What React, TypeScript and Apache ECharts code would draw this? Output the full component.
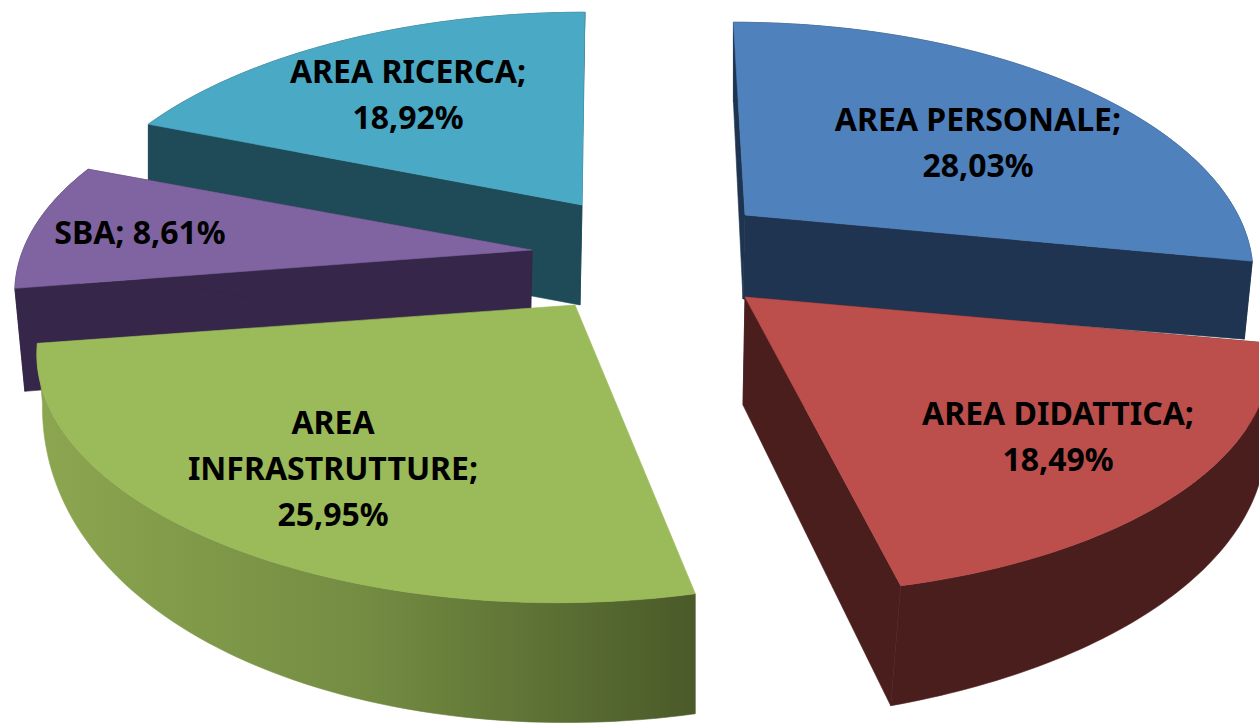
import React, { useEffect, useRef } from "react";
import * as echarts from "echarts";

const categories = ["AREA PERSONALE", "AREA DIDATTICA", "AREA INFRASTRUTTURE", "SBA", "AREA RICERCA"];
const shares = [28.03, 18.49, 25.95, 8.61, 18.92];
const shareLabels = ["28,03%", "18,49%", "25,95%", "8,61%", "18,92%"];
const labelLines = [
  ["AREA PERSONALE;", "28,03%"],
  ["AREA DIDATTICA;", "18,49%"],
  ["AREA", "INFRASTRUTTURE;", "25,95%"],
  ["SBA; 8,61%"],
  ["AREA RICERCA;", "18,92%"],
];
const topColors = ["#4f81bd", "#bc4f4c", "#9bba5a", "#8064a2", "#4aa9c5"];
const sideColors = ["#1f3450", "#4b1e1e", "#6f8a40", "#36264a", "#1f4a58"];
const drawOrder = [4, 3, 2, 0, 1];

// apex, radii, shear, bend and extrusion of each exploded slice
const geo = [
  { ax: 745, ay: 215, rx: 493, sh: 0.06, bend: 0, dApex: 84, dA: 80, dB: 78, pxA: 0, pxB: -8, dPow: 1, pxBend: 0 },
  { ax: 745, ay: 297, rx: 510, sh: 0.055, bend: 0, dApex: 108, dA: 85, dB: 120, pxA: -4, pxB: -10, dPow: 1, pxBend: 0 },
  { ax: 575, ay: 305, rx: 523, sh: -0.08, bend: 14, dApex: 120, dA: 120, dB: 60, pxA: 0, pxB: 5, dPow: 3, pxBend: 12 },
  { ax: 532, ay: 250, rx: 509, sh: 0.08, bend: 0, dApex: 100, dA: 103, dB: 100, pxA: 10, pxB: 8, dPow: 1, pxBend: 0 },
  { ax: 582, ay: 205, rx: 506, sh: -0.015, bend: 0, dApex: 100, dA: 100, dB: 100, pxA: 0, pxB: -2, dPow: 1, pxBend: 0 },
];
const RY = 234;
const K = 0.214;
const labelPos = [
  [978, 118],
  [1058, 412],
  [333, 421],
  [140, 231],
  [408, 70],
];
const FONT_SIZE = 32;
const LINE_H = 46;

function renderItem(params: any, api: any) {
  const i = api.value(0);
  const total = shares.reduce((a, b) => a + b, 0);
  let start = 0;
  for (let j = 0; j < i; j++) start += shares[j];
  const a0 = (start / total) * Math.PI * 2;
  const a1 = ((start + shares[i]) / total) * Math.PI * 2;
  const g = geo[i];
  const pt = (t: number, f: number) => {
    const den = 1 + K * Math.cos(t);
    const dy = (-RY * Math.cos(t)) / den;
    return [g.ax + (g.rx * Math.sin(t)) / den + g.sh * dy + g.bend * Math.sin(Math.PI * f), g.ay + dy];
  };
  const N = 72;
  const topArc: number[][] = [];
  const botArc: number[][] = [];
  for (let n = 0; n <= N; n++) {
    const f = n / N;
    const p = pt(a0 + (a1 - a0) * f, f);
    topArc.push(p);
    botArc.push([
      p[0] + g.pxA + (g.pxB - g.pxA) * f + g.pxBend * Math.sin(Math.PI * f),
      p[1] + g.dA + (g.dB - g.dA) * Math.pow(f, g.dPow),
    ]);
  }
  const apex = [g.ax, g.ay];
  const apexB = [g.ax - 2, g.ay + g.dApex];
  const side: any =
    i === 2
      ? new echarts.graphic.LinearGradient(
          0,
          0,
          1,
          0,
          [
            { offset: 0, color: "#8ca650" },
            { offset: 0.5, color: "#738c42" },
            { offset: 1, color: "#4a5a29" },
          ],
          false
        )
      : sideColors[i];
  const poly = (points: number[][], fill: any) => ({
    type: "polygon",
    shape: { points },
    style: { fill, stroke: fill, lineWidth: 0.6 },
  });
  const children: any[] = [poly([...topArc, ...botArc.slice().reverse()], side)];
  if (i !== 2) {
    children.push(poly([apex, topArc[0], botArc[0], apexB], sideColors[i]));
    children.push(poly([apex, topArc[N], botArc[N], apexB], sideColors[i]));
  }
  children.push(poly([apex, ...topArc], topColors[i]));
  labelLines[i].forEach((line, li) => {
    children.push({
      type: "text",
      x: labelPos[i][0],
      y: labelPos[i][1] + li * LINE_H,
      style: {
        text: line,
        fontFamily: "Noto Sans",
        fontWeight: "bold",
        fontSize: FONT_SIZE,
        fill: "#000",
        align: "center",
        verticalAlign: "middle",
      },
    });
  });
  return { type: "group", children };
}

export default function App() {
  const ref = useRef<HTMLDivElement>(null);
  useEffect(() => {
    const chart = echarts.init(ref.current!, undefined, { renderer: "svg" });
    chart.setOption({
      animation: false,
      backgroundColor: "#ffffff",
      series: [
        {
          type: "custom",
          coordinateSystem: "none",
          renderItem,
          silent: true,
          data: drawOrder.map((i) => ({ name: categories[i], value: [i, shares[i], shareLabels[i]] })),
        },
      ],
    });
    return () => chart.dispose();
  }, []);
  return <div ref={ref} style={{ position: "absolute", left: 0, top: 0, width: 1259, height: 723 }} />;
}
